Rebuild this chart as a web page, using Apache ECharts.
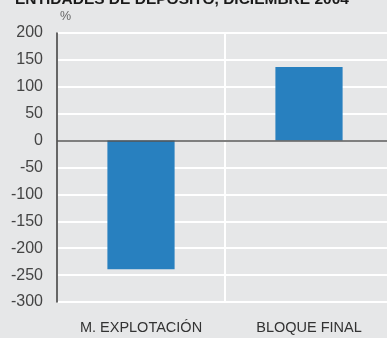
<!DOCTYPE html>
<html>
<head>
<meta charset="utf-8">
<script src="https://cdn.jsdelivr.net/npm/echarts@6/dist/echarts.min.js"></script>
<style>
  html, body { margin: 0; padding: 0; background: #e6e7e8; overflow: hidden; }
  /* the plot runs slightly past the right edge of the window */
  #chart { width: 393px; height: 338px; }
</style>
</head>
<body>
<div id="chart"></div>
<script>
// Variación de resultados, entidades de depósito (%)
const categories = ['M. EXPLOTACIÓN', 'BLOQUE FINAL'];
const values = [-239, 137];
const yTicks = { min: -300, max: 200, step: 50 };
const titleText = 'ENTIDADES DE DEPÓSITO, DICIEMBRE 2004';
const unitText = '%';

const chart = echarts.init(document.getElementById('chart'), null, { renderer: 'canvas' });
const font = '"Liberation Sans", Arial, sans-serif';

chart.setOption({
  backgroundColor: '#e6e7e8',
  animation: false,
  title: {
    text: titleText,
    left: 10,
    top: -13,
    textStyle: { fontFamily: font, fontSize: 15.5, fontWeight: 'bold', color: '#1a1a1a' }
  },
  graphic: [{
    type: 'text',
    left: 60,
    top: 10,
    style: { text: unitText, fontFamily: font, fontSize: 12.5, fill: '#666' }
  }],
  grid: { left: 57, right: 0, top: 33, bottom: 36 },
  xAxis: {
    type: 'category',
    data: categories,
    axisLine: { show: false },
    axisTick: { show: false },
    splitLine: { show: true, lineStyle: { color: '#ffffff', width: 2 } },
    axisLabel: { fontFamily: font, fontSize: 14.5, color: '#333', margin: 18 }
  },
  yAxis: {
    type: 'value',
    min: yTicks.min,
    max: yTicks.max,
    interval: yTicks.step,
    axisLine: { show: true, lineStyle: { color: '#333', width: 1.5 } },
    axisTick: { show: false },
    splitLine: { show: true, lineStyle: { color: '#ffffff', width: 2 } },
    axisLabel: { fontFamily: font, fontSize: 16, color: '#444', margin: 14 }
  },
  series: [{
    type: 'bar',
    data: values,
    barWidth: '40%',
    itemStyle: { color: '#2880bf' },
    markLine: {
      silent: true,
      symbol: 'none',
      label: { show: false },
      lineStyle: { color: '#555', width: 1.5, type: 'solid' },
      data: [{ yAxis: 0 }]
    }
  }]
});
</script>
</body>
</html>
